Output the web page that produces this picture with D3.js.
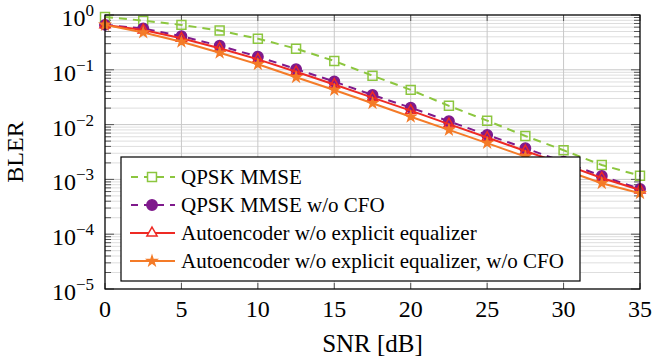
<!DOCTYPE html>
<html>
<head>
<meta charset="utf-8">
<script src="https://cdn.jsdelivr.net/npm/d3@7"></script>
<style>
    body { margin: 0; background: #fff; }
    text { font-family: "Liberation Serif", "Times New Roman", serif; fill: #000; }
</style>
</head>
<body>
<svg class="chart"></svg>
<script>

//
// data
//

var snr = [0, 2.5, 5, 7.5, 10, 12.5, 15, 17.5, 20, 22.5, 25, 27.5, 30, 32.5, 35];

var mmse       = [0.92, 0.79, 0.66, 0.52, 0.37, 0.243, 0.145, 0.078, 0.043, 0.022, 0.0118, 0.0062, 0.0034, 0.00183, 0.00117];
var mmseNoCfo  = [0.66, 0.57, 0.41, 0.275, 0.174, 0.103, 0.061, 0.0347, 0.0204, 0.0115, 0.0065, 0.0037, 0.0021, 0.00115, 0.00067];
var aeNoEq     = [0.66, 0.53, 0.375, 0.248, 0.155, 0.092, 0.054, 0.031, 0.018, 0.0102, 0.0058, 0.0033, 0.0019, 0.00106, 0.00064];
var aeNoEqNoCfo = [0.66, 0.48, 0.326, 0.205, 0.126, 0.073, 0.0428, 0.0245, 0.0139, 0.008, 0.0046, 0.0026, 0.0015, 0.00085, 0.00056];

var xTicks = [0, 5, 10, 15, 20, 25, 30, 35];
var yExponents = [0, -1, -2, -3, -4, -5];

var legendLabels = [
    "QPSK MMSE",
    "QPSK MMSE w/o CFO",
    "Autoencoder w/o explicit equalizer",
    "Autoencoder w/o explicit equalizer, w/o CFO"
];

//
// scene
//

var width = 654,
    height = 361;

var plot = { left: 105, right: 640, top: 15, bottom: 289 };

var svg = d3.select(".chart")
    .attr("width", width)
    .attr("height", height);

var x = d3.scaleLinear().domain([0, 35]).range([plot.left, plot.right]);
var y = d3.scaleLog().domain([1e-5, 1]).range([plot.bottom, plot.top]);

//
// grid
//

var minorVals = [];
for (var e = -5; e < 0; e++) {
    for (var m = 2; m < 10; m++) minorVals.push(m * Math.pow(10, e));
}

svg.append("g").selectAll("line")
    .data(minorVals)
    .enter().append("line")
    .attr("x1", plot.left).attr("x2", plot.right)
    .attr("y1", d => y(d)).attr("y2", d => y(d))
    .attr("stroke", "#dedede").attr("stroke-width", 1);

svg.append("g").selectAll("line")
    .data(yExponents)
    .enter().append("line")
    .attr("x1", plot.left).attr("x2", plot.right)
    .attr("y1", d => y(Math.pow(10, d))).attr("y2", d => y(Math.pow(10, d)))
    .attr("stroke", "#c8c8c8").attr("stroke-width", 1);

svg.append("g").selectAll("line")
    .data(xTicks)
    .enter().append("line")
    .attr("x1", d => x(d)).attr("x2", d => x(d))
    .attr("y1", plot.top).attr("y2", plot.bottom)
    .attr("stroke", "#c8c8c8").attr("stroke-width", 1);

// ticks (inside, both sides)
var ticks = svg.append("g").attr("stroke", "#555").attr("stroke-width", 1);
minorVals.forEach(function (d) {
    ticks.append("line").attr("x1", plot.left).attr("x2", plot.left + 6).attr("y1", y(d)).attr("y2", y(d));
    ticks.append("line").attr("x1", plot.right - 6).attr("x2", plot.right).attr("y1", y(d)).attr("y2", y(d));
});
yExponents.forEach(function (d) {
    var yy = y(Math.pow(10, d));
    ticks.append("line").attr("x1", plot.left).attr("x2", plot.left + 9).attr("y1", yy).attr("y2", yy);
    ticks.append("line").attr("x1", plot.right - 9).attr("x2", plot.right).attr("y1", yy).attr("y2", yy);
});
xTicks.forEach(function (d) {
    ticks.append("line").attr("x1", x(d)).attr("x2", x(d)).attr("y1", plot.bottom).attr("y2", plot.bottom - 6);
    ticks.append("line").attr("x1", x(d)).attr("x2", x(d)).attr("y1", plot.top).attr("y2", plot.top + 6);
});

//
// series
//

var series = [
    { values: mmse,        color: "#8cc63f", dash: "8,6", symbol: d3.symbolSquare,   size: 80, fill: "none" },
    { values: mmseNoCfo,   color: "#7f1a8c", dash: "8,6", symbol: d3.symbolCircle,   size: 85, fill: "#7f1a8c" },
    { values: aeNoEq,      color: "#ee2a24", dash: null,  symbol: d3.symbolTriangle, size: 45, fill: "none" },
    { values: aeNoEqNoCfo, color: "#f47b28", dash: null,  symbol: d3.symbolStar,     size: 28, fill: "#f47b28" }
];

var line = d3.line()
    .x(d => x(d[0]))
    .y(d => y(d[1]));

series.forEach(function (s) {
    var pts = snr.map((v, i) => [v, s.values[i]]);
    svg.append("path")
        .attr("d", line(pts))
        .attr("fill", "none")
        .attr("stroke", s.color)
        .attr("stroke-width", 2)
        .attr("stroke-dasharray", s.dash);
    svg.append("g").selectAll("path")
        .data(pts)
        .enter().append("path")
        .attr("transform", d => "translate(" + x(d[0]) + "," + y(d[1]) + ")")
        .attr("d", d3.symbol().type(s.symbol).size(s.size))
        .attr("fill", s.fill)
        .attr("stroke", s.color)
        .attr("stroke-width", 1.5);
});

// frame
svg.append("rect")
    .attr("x", plot.left).attr("y", plot.top)
    .attr("width", plot.right - plot.left).attr("height", plot.bottom - plot.top)
    .attr("fill", "none").attr("stroke", "#000").attr("stroke-width", 1.2);

//
// tick labels
//

svg.append("g").selectAll("text")
    .data(xTicks)
    .enter().append("text")
    .attr("x", d => x(d)).attr("y", 317)
    .attr("text-anchor", "middle")
    .attr("font-size", 24)
    .text(d => d);

var ylab = svg.append("g").selectAll("text")
    .data(yExponents)
    .enter().append("text")
    .attr("x", 94).attr("y", d => y(Math.pow(10, d)) + 11)
    .attr("text-anchor", "end")
    .attr("font-size", 24);
ylab.append("tspan").text("10");
ylab.append("tspan")
    .attr("font-size", 17)
    .attr("dy", -10)
    .text(d => d === 0 ? "0" : "\u2212" + (-d));

svg.append("text")
    .attr("x", x(17.5)).attr("y", 352)
    .attr("text-anchor", "middle")
    .attr("font-size", 25)
    .text("SNR [dB]");

svg.append("text")
    .attr("transform", "translate(23," + y(Math.pow(10, -2.5)) + ") rotate(-90)")
    .attr("text-anchor", "middle")
    .attr("font-size", 24)
    .text("BLER");

//
// legend
//

var legend = svg.append("g");
legend.append("rect")
    .attr("x", 121).attr("y", 157)
    .attr("width", 459).attr("height", 124)
    .attr("fill", "#fff").attr("stroke", "#000").attr("stroke-width", 1.2);

series.forEach(function (s, i) {
    var ly = 177 + i * 28;
    legend.append("line")
        .attr("x1", 130).attr("x2", 175)
        .attr("y1", ly).attr("y2", ly)
        .attr("stroke", s.color).attr("stroke-width", 2)
        .attr("stroke-dasharray", s.dash ? "7,6" : null)
        .attr("stroke-dashoffset", s.dash ? -1 : null);
    legend.append("path")
        .attr("transform", "translate(152," + ly + ")")
        .attr("d", d3.symbol().type(s.symbol).size(s.size))
        .attr("fill", s.fill === "none" ? "#fff" : s.fill)
        .attr("stroke", s.color).attr("stroke-width", 1.5);
    legend.append("text")
        .attr("x", 181).attr("y", ly + 7)
        .attr("font-size", 21)
        .text(legendLabels[i]);
});

</script>
</body>
</html>
